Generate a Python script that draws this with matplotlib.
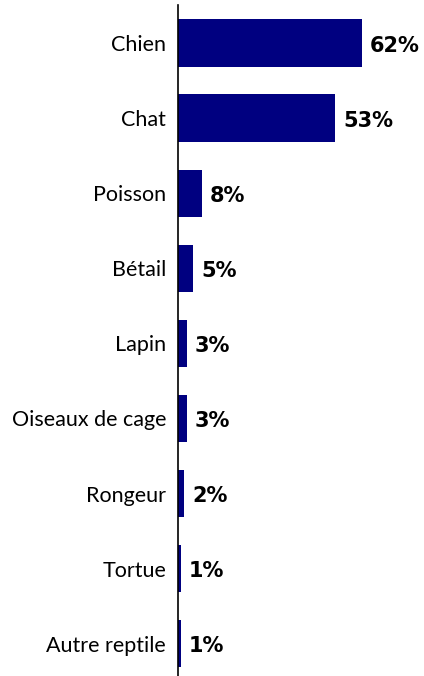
import matplotlib.pyplot as plt

categories = ["Chien", "Chat", "Poisson", "Bétail", "Lapin",
              "Oiseaux de cage", "Rongeur", "Tortue", "Autre reptile"]
values = [62, 53, 8, 5, 3, 3, 2, 1, 1]

fig = plt.figure(figsize=(4.24, 6.76), dpi=100)
ax = fig.add_axes([178 / 424, 0, 246 / 424, 1 - 5 / 676])

y = list(range(len(categories)))
ax.barh(y, values, height=0.63, color="#000080")
ax.set_xlim(0, 246 / 2.97)
ax.set_ylim(8.43, -0.506)

ax.set_yticks(y)
ax.set_yticklabels(categories, fontsize=15.5, family="Lato")
ax.tick_params(axis="y", length=0, pad=8.5)
ax.set_xticks([])

for s in ["top", "right", "bottom"]:
    ax.spines[s].set_visible(False)
ax.spines["left"].set_linewidth(1.2)

for yi, v in zip(y, values):
    ax.annotate(f"{v}%", (v, yi), xytext=(5.8, -2), textcoords="offset points",
                va="center", ha="left", fontsize=15, fontweight="bold",
                family="DejaVu Sans")

fig.savefig("out.png", dpi=100)
